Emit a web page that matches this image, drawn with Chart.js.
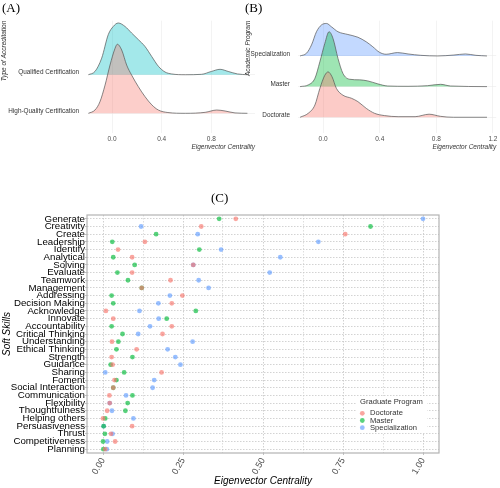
<!DOCTYPE html>
<html>
<head>
<meta charset="utf-8">
<script src="https://cdn.jsdelivr.net/npm/chart.js@4.4.0/dist/chart.umd.min.js"></script>
<style>
  html, body { margin: 0; padding: 0; background: #fff; }
  #page { position: relative; width: 500px; height: 488px; overflow: hidden; background: #fff; }
  canvas { position: absolute; }
  .tag { position: absolute; font-family: 'Liberation Serif', serif; font-size: 13px; line-height: 13px; color: #000; }
</style>
</head>
<body>
<div id="page">
  <canvas id="chartA" width="256" height="160" style="left:0;top:0"></canvas>
  <canvas id="chartB" width="255" height="160" style="left:245px;top:0"></canvas>
  <canvas id="chartC" width="500" height="308" style="left:0;top:180px"></canvas>
  <div class="tag" style="left:2px;top:1px">(A)</div>
  <div class="tag" style="left:245px;top:1px">(B)</div>
  <div class="tag" style="left:211px;top:191px">(C)</div>
</div>
<script>
// ---- (A) Type of Accreditation: density ridges (heights in row units) ----
const accrLabels = ['High-Quality Certification', 'Qualified Certification'];
const highQualityX = [-0.19, -0.137, -0.097, -0.056, -0.016, 0.024, 0.043, 0.078, 0.118, 0.158, 0.212, 0.266, 0.32, 0.373, 0.45, 0.59, 0.75, 0.843, 0.91, 0.99, 1.09];
const highQualityH = [0, 0.085, 0.30, 0.73, 1.25, 1.68, 1.79, 1.64, 1.25, 0.99, 0.69, 0.43, 0.22, 0.085, 0.02, 0, 0.025, 0.085, 0.06, 0.01, 0];
const qualifiedX = [-0.19, -0.137, -0.083, -0.03, 0.01, 0.05, 0.105, 0.158, 0.212, 0.266, 0.32, 0.373, 0.427, 0.48, 0.59, 0.72, 0.8, 0.87, 0.935, 1.01, 1.09];
const qualifiedH = [0, 0.085, 0.43, 1.04, 1.25, 1.34, 1.25, 1.08, 0.91, 0.73, 0.47, 0.22, 0.07, 0.02, 0, 0.01, 0.085, 0.14, 0.085, 0.02, 0];
const xTicksA = [0, 0.4, 0.8];

// ---- (B) Academic Program: density ridges ----
const programLabels = ['Doctorate', 'Master', 'Specialization'];
const doctorateX = [-0.163, -0.105, -0.058, -0.023, 0.012, 0.035, 0.063, 0.094, 0.14, 0.2, 0.246, 0.305, 0.363, 0.433, 0.53, 0.65, 0.749, 0.83, 0.92, 1.158];
const doctorateH = [0, 0.13, 0.40, 0.94, 1.37, 1.48, 1.32, 0.94, 0.72, 0.62, 0.51, 0.29, 0.13, 0.055, 0.02, 0.02, 0.10, 0.03, 0, 0];
const masterX = [-0.163, -0.105, -0.058, -0.023, 0.012, 0.042, 0.07, 0.105, 0.14, 0.187, 0.258, 0.316, 0.386, 0.456, 0.6, 0.737, 0.83, 0.9, 1.158];
const masterH = [0, 0.055, 0.27, 0.81, 1.41, 1.79, 1.57, 0.92, 0.43, 0.24, 0.22, 0.185, 0.09, 0.02, 0.01, 0.03, 0.075, 0.02, 0];
const specX = [-0.163, -0.117, -0.082, -0.047, -0.012, 0.024, 0.059, 0.105, 0.175, 0.246, 0.305, 0.351, 0.398, 0.445, 0.526, 0.6, 0.69, 0.81, 0.924, 1.006, 1.08, 1.158];
const specH = [0, 0.09, 0.36, 0.79, 1.01, 1.06, 0.95, 0.79, 0.70, 0.61, 0.46, 0.30, 0.12, 0.055, 0.11, 0.065, 0.02, 0, 0.03, 0.065, 0.02, 0];
const xTicksB = [0, 0.4, 0.8, 1.2];

// ---- (C) Soft skills eigenvector centrality ----
const skills = ['Generate', 'Creativity', 'Create', 'Leadership', 'Identify', 'Analytical', 'Solving', 'Evaluate',
  'Teamwork', 'Management', 'Addressing', 'Decision Making', 'Acknowledge', 'Innovate', 'Accountability',
  'Critical Thinking', 'Understanding', 'Ethical Thinking', 'Strength', 'Guidance', 'Sharing', 'Foment',
  'Social Interaction', 'Communication', 'Flexibility', 'Thoughtfulness', 'Helping others', 'Persuasiveness',
  'Thrust', 'Competitiveness', 'Planning'];
const doctorateEC = [0.415, 0.307, 0.757, 0.131, 0.047, 0.091, 0.282, 0.091, 0.211, 0.121, 0.248, 0.215, 0.009, 0.032, 0.215,
  0.186, 0.028, 0.105, 0.027, 0.030, 0.183, 0.036, 0.032, 0.020, 0.021, 0.013, 0.0, 0.091, 0.025, 0.038, 0.007];
const masterEC = [0.363, 0.836, 0.166, 0.029, 0.301, 0.032, 0.099, 0.045, 0.078, 0.121, 0.027, 0.032, 0.290, 0.199, 0.027,
  0.061, 0.048, 0.042, 0.092, 0.024, 0.066, 0.042, 0.032, 0.092, 0.077, 0.070, 0.007, 0.002, 0.006, 0.0, 0.001];
const specializationEC = [1.0, 0.119, 0.296, 0.673, 0.369, 0.554, 0.282, 0.521, 0.299, 0.330, 0.209, 0.173, 0.114, 0.174, 0.147,
  0.110, 0.280, 0.202, 0.226, 0.242, 0.007, 0.160, 0.155, 0.072, 0.021, 0.028, 0.095, 0.002, 0.030, 0.013, 0.012];
const xTicksC = [0, 0.125, 0.25, 0.375, 0.5, 0.625, 0.75, 0.875, 1.0];

const FONT = "'Liberation Sans', Arial, sans-serif";
Chart.defaults.font.family = FONT;

// one density ridge, filled down to its own baseline
function ridge(label, xs, hs, base, fillColor) {
  return {
    label: label,
    data: xs.map((x, i) => ({ x: x, y: base + hs[i] })),
    borderColor: '#555555',
    borderWidth: 0.7,
    backgroundColor: fillColor,
    fill: { value: base },
    pointRadius: 0,
    cubicInterpolationMode: 'monotone'
  };
}

function ridgeChart(id, datasets, rowLabels, cfg) {
  return new Chart(document.getElementById(id), {
    type: 'line',
    data: { datasets: datasets },
    options: {
      responsive: false,
      animation: false,
      layout: { padding: { top: 20.7, right: cfg.padRight, bottom: 0, left: 0 } },
      plugins: { legend: { display: false }, tooltip: { enabled: false } },
      scales: {
        x: {
          type: 'linear', min: cfg.xMin, max: cfg.xMax,
          afterBuildTicks: s => { s.ticks = cfg.xTicks.map(v => ({ value: v })); },
          afterFit: s => { s.height = 27.4; },
          grid: { color: '#EBEBEB', lineWidth: 0.6, drawTicks: false },
          border: { display: false },
          ticks: { padding: 2.5, color: '#4D4D4D', font: { size: 6.5 }, callback: v => v.toFixed(1) },
          title: { display: true, text: 'Eigenvector Centrality', align: 'end', color: '#333',
            font: { size: 6.5, style: 'italic' }, padding: { top: 0, bottom: 9 } }
        },
        y: {
          type: 'linear', min: cfg.yMin, max: cfg.yMax,
          afterBuildTicks: s => { s.ticks = rowLabels.map((_, i) => ({ value: i })); },
          afterFit: s => { s.width = cfg.yWidth; },
          grid: { color: '#EBEBEB', lineWidth: 0.6, drawTicks: false },
          border: { display: false },
          ticks: { padding: cfg.labelPad, color: '#333', font: { size: 6.4 }, labelOffset: -2,
            callback: v => rowLabels[v] },
          title: { display: true, text: cfg.yTitle, align: 'end', color: '#333',
            font: { size: 6.5, style: 'italic', lineHeight: 1 }, padding: { top: cfg.titlePad, bottom: 0 } }
        }
      }
    }
  });
}

// lower rows first so they are painted on top of the rows above
ridgeChart('chartA', [
  ridge(accrLabels[0], highQualityX, highQualityH, 0, 'rgba(248,118,109,0.36)'),
  ridge(accrLabels[1], qualifiedX, qualifiedH, 1, 'rgba(0,191,196,0.36)')
], accrLabels, {
  xMin: -0.1932, xMax: 1.151, xTicks: xTicksA, yMin: -0.5, yMax: 2.4,
  yWidth: 88, labelPad: 9, padRight: 1, yTitle: 'Type of Accreditation', titlePad: 1
});

ridgeChart('chartB', [
  ridge(programLabels[0], doctorateX, doctorateH, 0, 'rgba(248,118,109,0.38)'),
  ridge(programLabels[1], masterX, masterH, 1, 'rgba(0,186,56,0.38)'),
  ridge(programLabels[2], specX, specH, 2, 'rgba(97,156,255,0.38)')
], programLabels, {
  xMin: -0.1775, xMax: 1.2225, xTicks: xTicksB, yMin: -0.5, yMax: 3.15,
  yWidth: 53, labelPad: 8, padRight: 2.5, yTitle: 'Academic Program', titlePad: 0
});

// ---- panel C ----
const panelBorder = {
  id: 'panelBorder',
  beforeDatasetsDraw(chart) {
    const a = chart.chartArea, ctx = chart.ctx;
    ctx.save();
    ctx.strokeStyle = '#B3B3B3';
    ctx.lineWidth = 1.2;
    ctx.strokeRect(a.left, a.top, a.right - a.left, a.bottom - a.top);
    ctx.restore();
  }
};

const panelLegend = {
  id: 'panelLegend',
  afterDraw(chart) {
    const a = chart.chartArea, ctx = chart.ctx;
    const left = a.right - 83, top = a.bottom - 57;
    ctx.save();
    ctx.fillStyle = '#fff';
    ctx.fillRect(left, top, 71, 37);
    ctx.font = '7.6px ' + FONT;
    ctx.textBaseline = 'middle';
    ctx.fillStyle = '#333';
    ctx.fillText('Graduate Program', left + 4, top + 6);
    chart.data.datasets.forEach((ds, i) => {
      const y = top + 17.3 + i * 7.2;
      ctx.beginPath();
      ctx.arc(left + 6.3, y, 2.4, 0, Math.PI * 2);
      ctx.fillStyle = ds.backgroundColor;
      ctx.fill();
      ctx.fillStyle = '#333';
      ctx.fillText(ds.label, left + 14, y);
    });
    ctx.restore();
  }
};

const ecSeries = [doctorateEC, masterEC, specializationEC];
const pointColors = ['rgba(248,118,109,0.65)', 'rgba(0,186,56,0.65)', 'rgba(97,156,255,0.65)'];
const isMajor = v => Math.abs(v * 4 - Math.round(v * 4)) < 1e-6;

new Chart(document.getElementById('chartC'), {
  type: 'scatter',
  data: {
    datasets: programLabels.map((p, k) => ({
      label: p,
      data: skills.map((s, i) => ({ x: ecSeries[k][i], y: s })),
      backgroundColor: pointColors[k],
      borderWidth: 0,
      pointRadius: 2.4
    }))
  },
  options: {
    responsive: false,
    animation: false,
    layout: { padding: { top: 35, right: 61, bottom: 0, left: 0 } },
    plugins: { legend: { display: false }, tooltip: { enabled: false } },
    scales: {
      x: {
        type: 'linear', min: -0.05, max: 1.05,
        afterBuildTicks: s => { s.ticks = xTicksC.map(v => ({ value: v })); },
        afterFit: s => { s.height = 35; },
        grid: {
          color: ctx => isMajor(ctx.tick.value) ? '#C4C4C4' : '#D6D6D6',
          lineWidth: 0.8, tickLength: 2,
          tickColor: ctx => isMajor(ctx.tick.value) ? '#B3B3B3' : 'rgba(0,0,0,0)'
        },
        border: { display: false, dash: [1.5, 1.5] },
        ticks: {
          autoSkip: false, minRotation: 60, maxRotation: 60, padding: 1,
          color: '#4D4D4D', font: { size: 9 },
          callback: v => isMajor(v) ? v.toFixed(2) : ''
        },
        title: { display: true, text: 'Eigenvector Centrality', color: '#000',
          font: { size: 10, style: 'italic' }, padding: { top: 0, bottom: 1 } }
      },
      y: {
        type: 'category', labels: skills, offset: true,
        afterFit: s => { s.width = 87; },
        grid: { offset: false, color: '#C8C8C8', lineWidth: 0.8, tickLength: 2, tickColor: '#B3B3B3' },
        border: { display: false, dash: [1.5, 1.5] },
        ticks: { autoSkip: false, padding: 0, color: '#000', font: { size: 9.7 } },
        title: { display: true, text: 'Soft Skills', color: '#000',
          font: { size: 10, style: 'italic' }, padding: { top: 1, bottom: 0 } }
      }
    }
  },
  plugins: [panelBorder, panelLegend]
});
</script>
</body>
</html>
